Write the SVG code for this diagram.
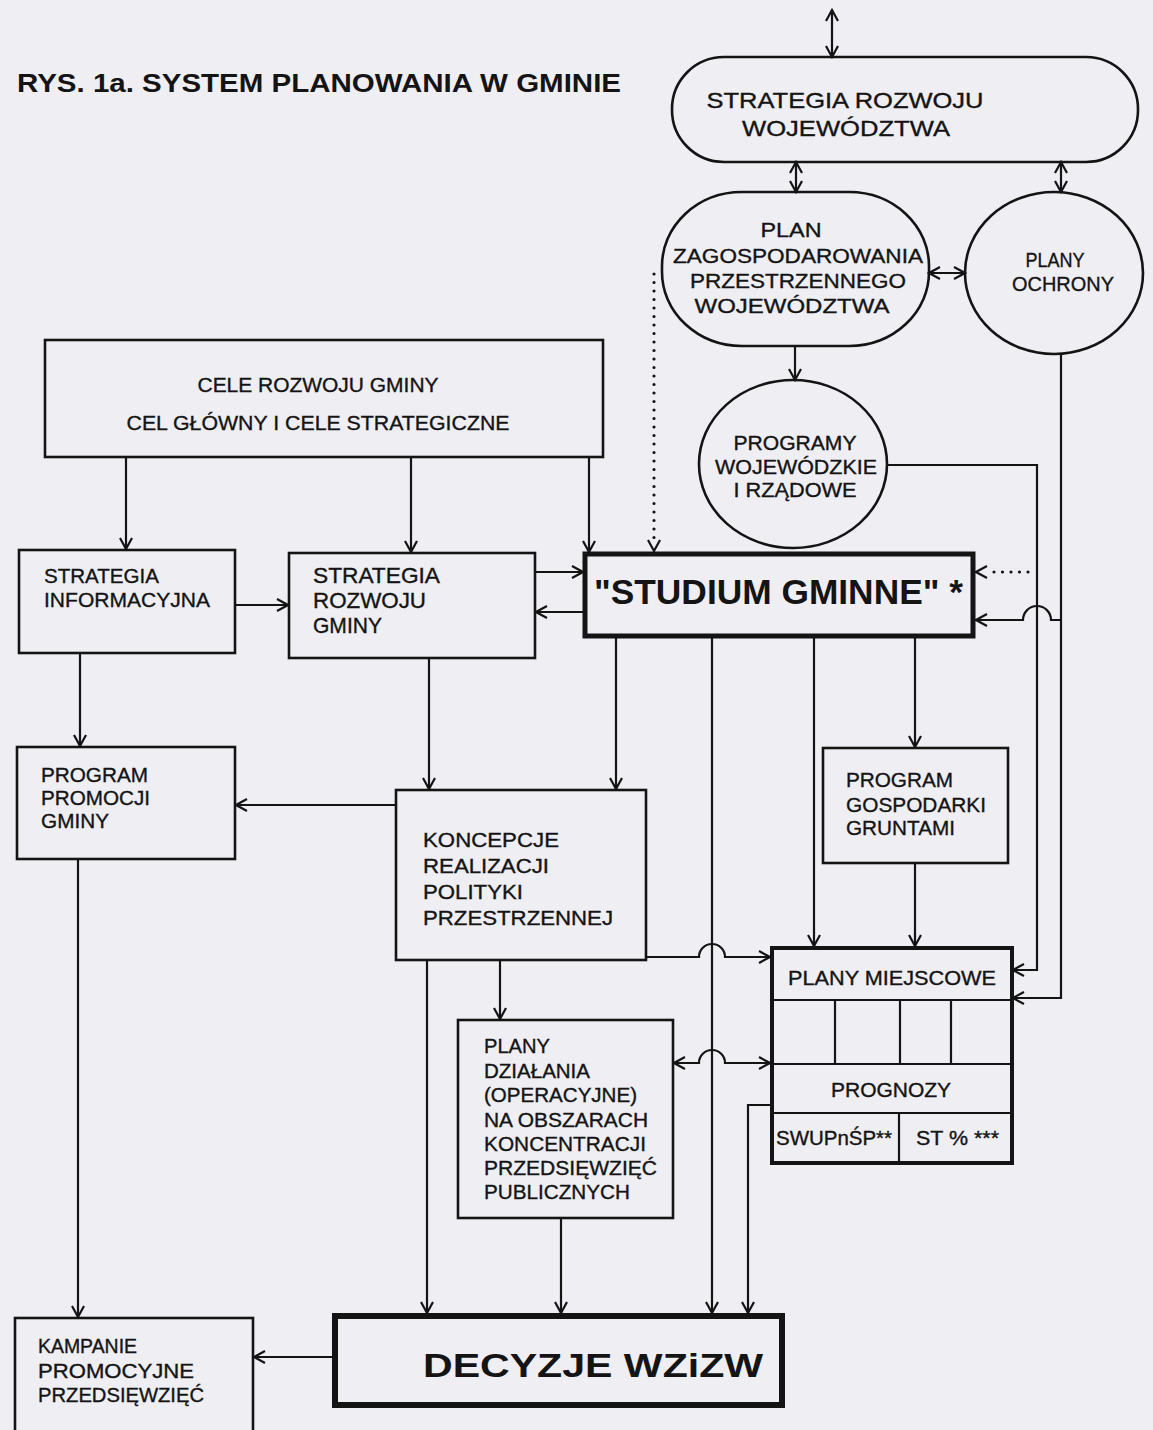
<svg xmlns="http://www.w3.org/2000/svg" width="1153" height="1430" viewBox="0 0 1153 1430">
<style>
text{font-family:"Liberation Sans",Arial,sans-serif;fill:#141414;stroke:#141414;stroke-width:0.35}
.b{fill:none;stroke:#141414;stroke-width:2.6}
.t{fill:none;stroke:#141414;stroke-width:5}
.c{fill:none;stroke:#141414;stroke-width:2.2}
.d{fill:none;stroke:#141414;stroke-width:3.2;stroke-dasharray:0 8.5;stroke-linecap:round}
.m{font-size:21px}
.s{font-size:20px}
.bold{font-weight:bold;stroke-width:0}
</style>
<defs>
<marker id="ah" viewBox="0 0 14 14" markerUnits="userSpaceOnUse" markerWidth="14" markerHeight="14" refX="12" refY="7" orient="auto-start-reverse">
<path d="M1,1 L12,7 L1,13" fill="none" stroke="#141414" stroke-width="2.2"/>
</marker>
</defs>
<rect width="1153" height="1430" fill="#efeef3"/>
<text x="17" y="92" class="bold" font-size="25" textLength="604" lengthAdjust="spacingAndGlyphs">RYS. 1a. SYSTEM PLANOWANIA W GMINIE</text>

<g id="strategia-wojewodztwa">
<rect x="672" y="57" width="466" height="105" rx="52" ry="52" class="b"/>
<text x="845" y="108" text-anchor="middle" font-size="22" textLength="277" lengthAdjust="spacingAndGlyphs">STRATEGIA ROZWOJU</text>
<text x="846" y="136" text-anchor="middle" font-size="22" textLength="208" lengthAdjust="spacingAndGlyphs">WOJEWÓDZTWA</text>
</g>
<g id="plan-zagospodarowania">
<rect x="662" y="192" width="267" height="154" rx="80" ry="74" class="b"/>
<text x="791" y="237" text-anchor="middle" class="m" textLength="61" lengthAdjust="spacingAndGlyphs">PLAN</text>
<text x="798" y="263" text-anchor="middle" class="m" textLength="250" lengthAdjust="spacingAndGlyphs">ZAGOSPODAROWANIA</text>
<text x="798" y="288" text-anchor="middle" class="m" textLength="216" lengthAdjust="spacingAndGlyphs">PRZESTRZENNEGO</text>
<text x="792" y="313" text-anchor="middle" class="m" textLength="195" lengthAdjust="spacingAndGlyphs">WOJEWÓDZTWA</text>
</g>
<g id="plany-ochrony">
<ellipse cx="1054" cy="273" rx="89" ry="81" class="b"/>
<text x="1055" y="267" text-anchor="middle" class="m" textLength="59" lengthAdjust="spacingAndGlyphs">PLANY</text>
<text x="1063" y="291" text-anchor="middle" class="m" textLength="102" lengthAdjust="spacingAndGlyphs">OCHRONY</text>
</g>
<g id="programy">
<ellipse cx="793" cy="464" rx="94" ry="84" class="b"/>
<text x="795" y="450" text-anchor="middle" class="s" textLength="123" lengthAdjust="spacingAndGlyphs">PROGRAMY</text>
<text x="796" y="474" text-anchor="middle" class="s" textLength="162" lengthAdjust="spacingAndGlyphs">WOJEWÓDZKIE</text>
<text x="795" y="497" text-anchor="middle" class="s" textLength="123" lengthAdjust="spacingAndGlyphs">I RZĄDOWE</text>
</g>
<g id="cele">
<rect x="45" y="340" width="558" height="117" class="b"/>
<text x="318" y="392" text-anchor="middle" class="m" textLength="241" lengthAdjust="spacingAndGlyphs">CELE ROZWOJU GMINY</text>
<text x="318" y="430" text-anchor="middle" class="m" textLength="383" lengthAdjust="spacingAndGlyphs">CEL GŁÓWNY I CELE STRATEGICZNE</text>
</g>
<g id="strategia-informacyjna">
<rect x="19" y="550" width="216" height="103" class="b"/>
<text x="44" y="583" class="m" textLength="115" lengthAdjust="spacingAndGlyphs">STRATEGIA</text>
<text x="44" y="607" class="m" textLength="166" lengthAdjust="spacingAndGlyphs">INFORMACYJNA</text>
</g>
<g id="strategia-rozwoju-gminy">
<rect x="289" y="553" width="246" height="105" class="b"/>
<text x="313" y="583" font-size="22" textLength="127" lengthAdjust="spacingAndGlyphs">STRATEGIA</text>
<text x="313" y="608" font-size="22" textLength="113" lengthAdjust="spacingAndGlyphs">ROZWOJU</text>
<text x="313" y="633" font-size="22" textLength="69" lengthAdjust="spacingAndGlyphs">GMINY</text>
</g>
<g id="studium">
<rect x="585" y="554" width="388" height="82" class="t"/>
<text x="594" y="604" class="bold" font-size="35" textLength="369" lengthAdjust="spacingAndGlyphs">"STUDIUM GMINNE" *</text>
</g>
<g id="program-promocji">
<rect x="17" y="747" width="218" height="112" class="b"/>
<text x="41" y="782" class="m" textLength="107" lengthAdjust="spacingAndGlyphs">PROGRAM</text>
<text x="41" y="805" class="m" textLength="109" lengthAdjust="spacingAndGlyphs">PROMOCJI</text>
<text x="41" y="828" class="m" textLength="68" lengthAdjust="spacingAndGlyphs">GMINY</text>
</g>
<g id="koncepcje">
<rect x="396" y="790" width="250" height="170" class="b"/>
<text x="423" y="847" class="m" textLength="136" lengthAdjust="spacingAndGlyphs">KONCEPCJE</text>
<text x="423" y="873" class="m" textLength="126" lengthAdjust="spacingAndGlyphs">REALIZACJI</text>
<text x="423" y="899" class="m" textLength="100" lengthAdjust="spacingAndGlyphs">POLITYKI</text>
<text x="423" y="925" class="m" textLength="190" lengthAdjust="spacingAndGlyphs">PRZESTRZENNEJ</text>
</g>
<g id="program-gospodarki">
<rect x="823" y="748" width="185" height="115" class="b"/>
<text x="846" y="787" class="m" textLength="107" lengthAdjust="spacingAndGlyphs">PROGRAM</text>
<text x="846" y="812" class="m" textLength="140" lengthAdjust="spacingAndGlyphs">GOSPODARKI</text>
<text x="846" y="835" class="m" textLength="109" lengthAdjust="spacingAndGlyphs">GRUNTAMI</text>
</g>
<g id="plany-miejscowe">
<rect x="772" y="948" width="240" height="215" fill="none" stroke="#141414" stroke-width="4"/>
<path d="M772,1000 H1012 M772,1064 H1012 M772,1113 H1012 M835,1000 V1064 M900,1000 V1064 M951,1000 V1064 M899,1113 V1163" class="c"/>
<text x="892" y="985" text-anchor="middle" class="s" textLength="208" lengthAdjust="spacingAndGlyphs">PLANY MIEJSCOWE</text>
<text x="891" y="1097" text-anchor="middle" class="s" textLength="120" lengthAdjust="spacingAndGlyphs">PROGNOZY</text>
<text x="776" y="1145" class="s" textLength="116" lengthAdjust="spacingAndGlyphs">SWUPnŚP**</text>
<text x="916" y="1145" class="s" textLength="83" lengthAdjust="spacingAndGlyphs">ST % ***</text>
</g>
<g id="plany-dzialania">
<rect x="458" y="1020" width="215" height="198" class="b"/>
<text x="484" y="1053" class="s" textLength="66" lengthAdjust="spacingAndGlyphs">PLANY</text>
<text x="484" y="1078" class="s" textLength="106" lengthAdjust="spacingAndGlyphs">DZIAŁANIA</text>
<text x="484" y="1102" class="s" textLength="153" lengthAdjust="spacingAndGlyphs">(OPERACYJNE)</text>
<text x="484" y="1127" class="s" textLength="164" lengthAdjust="spacingAndGlyphs">NA OBSZARACH</text>
<text x="484" y="1151" class="s" textLength="162" lengthAdjust="spacingAndGlyphs">KONCENTRACJI</text>
<text x="484" y="1175" class="s" textLength="173" lengthAdjust="spacingAndGlyphs">PRZEDSIĘWZIĘĆ</text>
<text x="484" y="1199" class="s" textLength="146" lengthAdjust="spacingAndGlyphs">PUBLICZNYCH</text>
</g>
<g id="kampanie">
<rect x="15" y="1318" width="238" height="130" class="b"/>
<text x="38" y="1353" class="s" textLength="99" lengthAdjust="spacingAndGlyphs">KAMPANIE</text>
<text x="38" y="1378" class="s" textLength="156" lengthAdjust="spacingAndGlyphs">PROMOCYJNE</text>
<text x="38" y="1402" class="s" textLength="166" lengthAdjust="spacingAndGlyphs">PRZEDSIĘWZIĘĆ</text>
</g>
<g id="decyzje">
<rect x="335" y="1316" width="447" height="89" fill="none" stroke="#141414" stroke-width="6"/>
<text x="593" y="1377" text-anchor="middle" class="bold" font-size="33" textLength="340" lengthAdjust="spacingAndGlyphs">DECYZJE WZiZW</text>
</g>

<g id="connectors">
<path d="M832,10 V57" class="c" marker-start="url(#ah)" marker-end="url(#ah)"/>
<path d="M796,162 V192" class="c" marker-start="url(#ah)" marker-end="url(#ah)"/>
<path d="M1061,162 V192" class="c" marker-start="url(#ah)" marker-end="url(#ah)"/>
<path d="M929,273 H965" class="c" marker-start="url(#ah)" marker-end="url(#ah)"/>
<path d="M654,274 V540" class="d"/>
<path d="M654,538 V551" class="c" stroke-opacity="0" marker-end="url(#ah)"/>
<path d="M795,346 V380" class="c" marker-end="url(#ah)"/>
<path d="M887,465 H1037 V970 H1013" class="c" marker-end="url(#ah)"/>
<path d="M1028,572 H988" class="d"/>
<path d="M985,572 H976" class="c" stroke-opacity="0" marker-end="url(#ah)"/>
<path d="M1061,354 V998 H1013" class="c" marker-end="url(#ah)"/>
<path d="M1061,620 H1051 A14,14 0 0 0 1023,620 H976" class="c" marker-end="url(#ah)"/>
<path d="M126,457 V549" class="c" marker-end="url(#ah)"/>
<path d="M411,457 V552" class="c" marker-end="url(#ah)"/>
<path d="M589,457 V552" class="c" marker-end="url(#ah)"/>
<path d="M235,605 H288" class="c" marker-end="url(#ah)"/>
<path d="M535,572 H583" class="c" marker-end="url(#ah)"/>
<path d="M583,612 H536" class="c" marker-end="url(#ah)"/>
<path d="M429,658 V789" class="c" marker-end="url(#ah)"/>
<path d="M80,653 V746" class="c" marker-end="url(#ah)"/>
<path d="M396,805 H236" class="c" marker-end="url(#ah)"/>
<path d="M616,638 V789" class="c" marker-end="url(#ah)"/>
<path d="M712,638 V1313" class="c" marker-end="url(#ah)"/>
<path d="M814,638 V946" class="c" marker-end="url(#ah)"/>
<path d="M915,638 V747" class="c" marker-end="url(#ah)"/>
<path d="M915,863 V946" class="c" marker-end="url(#ah)"/>
<path d="M646,957 H699 A13,13 0 0 1 725,957 H770" class="c" marker-end="url(#ah)"/>
<path d="M500,960 V1019" class="c" marker-end="url(#ah)"/>
<path d="M674,1063 H699 A13,13 0 0 1 725,1063 H770" class="c" marker-start="url(#ah)" marker-end="url(#ah)"/>
<path d="M427,960 V1313" class="c" marker-end="url(#ah)"/>
<path d="M561,1218 V1313" class="c" marker-end="url(#ah)"/>
<path d="M772,1105 H748 V1313" class="c" marker-end="url(#ah)"/>
<path d="M78,859 V1317" class="c" marker-end="url(#ah)"/>
<path d="M332,1357 H254" class="c" marker-end="url(#ah)"/>
</g>
</svg>
